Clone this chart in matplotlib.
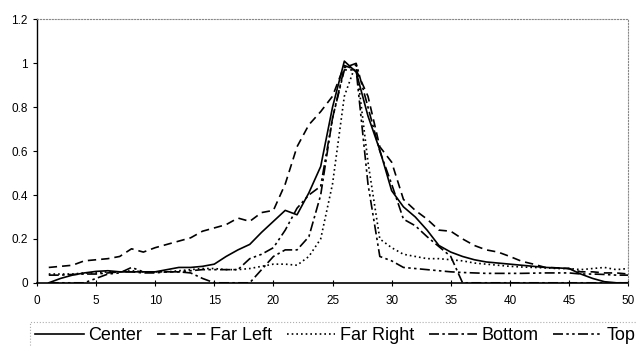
import matplotlib
matplotlib.use("Agg")
import matplotlib.pyplot as plt

plt.rcParams['font.family'] = ['Liberation Sans', 'DejaVu Sans']

# sample position 1..50
pos = list(range(1, 51))

center = [0.0, 0.02, 0.035, 0.045, 0.052, 0.055, 0.05, 0.05, 0.05, 0.05,
          0.06, 0.07, 0.07, 0.075, 0.085, 0.12, 0.15, 0.175, 0.23, 0.28,
          0.33, 0.31, 0.41, 0.53, 0.80, 1.01, 0.96, 0.76, 0.605, 0.42,
          0.346, 0.30, 0.24, 0.17, 0.14, 0.12, 0.105, 0.095, 0.09, 0.085,
          0.08, 0.075, 0.07, 0.068, 0.065, 0.04, 0.02, 0.005, 0.0, 0.0]

far_left = [0.07, 0.075, 0.08, 0.10, 0.105, 0.11, 0.12, 0.155, 0.14, 0.16,
            0.175, 0.19, 0.205, 0.235, 0.25, 0.265, 0.295, 0.28, 0.32, 0.33,
            0.45, 0.62, 0.72, 0.78, 0.85, 0.99, 0.97, 0.85, 0.62, 0.55,
            0.38, 0.33, 0.29, 0.24, 0.235, 0.20, 0.17, 0.15, 0.14, 0.12,
            0.098, 0.085, 0.07, 0.068, 0.065, 0.05, 0.05, 0.045, 0.045, 0.04]

far_right = [0.04, 0.04, 0.04, 0.045, 0.045, 0.05, 0.05, 0.055, 0.05, 0.05,
             0.05, 0.055, 0.06, 0.065, 0.065, 0.06, 0.06, 0.065, 0.075, 0.085,
             0.085, 0.08, 0.12, 0.20, 0.45, 0.85, 1.0, 0.55, 0.20, 0.16,
             0.13, 0.12, 0.11, 0.11, 0.105, 0.10, 0.09, 0.085, 0.08, 0.075,
             0.072, 0.07, 0.068, 0.065, 0.065, 0.06, 0.065, 0.07, 0.06, 0.065]

bottom = [0.035, 0.035, 0.038, 0.04, 0.04, 0.045, 0.05, 0.05, 0.045, 0.045,
          0.05, 0.05, 0.045, 0.02, 0.0, 0.0, 0.0, 0.0, 0.06, 0.12,
          0.15, 0.15, 0.21, 0.40, 0.75, 0.98, 1.0, 0.80, 0.60, 0.45,
          0.29, 0.26, 0.21, 0.165, 0.12, 0.0, 0.0, 0.0, 0.0, 0.0,
          0.0, 0.0, 0.0, 0.0, 0.0, 0.0, 0.0, 0.0, 0.0, 0.0]

top = [0.0, 0.0, 0.0, 0.0, 0.02, 0.04, 0.045, 0.07, 0.05, 0.05,
       0.05, 0.05, 0.055, 0.06, 0.06, 0.06, 0.06, 0.11, 0.13, 0.16,
       0.24, 0.34, 0.40, 0.44, 0.75, 0.97, 0.97, 0.45, 0.12, 0.10,
       0.07, 0.065, 0.06, 0.055, 0.05, 0.047, 0.045, 0.043, 0.043, 0.043,
       0.043, 0.044, 0.045, 0.045, 0.045, 0.04, 0.04, 0.038, 0.035, 0.035]

series = [("Center", center, '-'),
          ("Far Left", far_left, (0, (5, 3))),
          ("Far Right", far_right, (0, (1, 1.8))),
          ("Bottom", bottom, (0, (6, 2, 1.5, 2))),
          ("Top", top, (0, (6, 2, 1.5, 2, 1.5, 2)))]

fig = plt.figure(figsize=(6.37, 3.47), dpi=100)
ax = fig.add_axes([0.058, 0.185, 0.928, 0.759])

for name, vals, ls in series:
    ax.plot(pos, vals, color='black', linestyle=ls, linewidth=1.2, label=name)

ax.set_xlim(0, 50)
ax.set_ylim(0, 1.2)
ax.set_xticks(range(0, 51, 5))
ax.set_yticks([0, 0.2, 0.4, 0.6, 0.8, 1, 1.2])
ax.set_yticklabels(['0', '0.2', '0.4', '0.6', '0.8', '1', '1.2'])
ax.tick_params(axis='x', direction='inout', length=5, labelsize=8.5, pad=6)
ax.tick_params(axis='y', direction='out', length=3, labelsize=8.5)
for s in ['top', 'right']:
    ax.spines[s].set_linestyle(':')
    ax.spines[s].set_color('#888888')
ax.spines['left'].set_linewidth(1.0)
ax.spines['bottom'].set_linewidth(1.2)

leg = fig.legend(loc='upper left', bbox_to_anchor=(0.047, 0.072), ncol=5,
                 fontsize=13, handlelength=2.7, handletextpad=0.25,
                 columnspacing=0.8, frameon=True, fancybox=False,
                 borderpad=0.3, borderaxespad=0)
leg.get_frame().set_edgecolor('#999999')
leg.get_frame().set_linestyle(':')
leg.get_frame().set_linewidth(0.8)

fig.savefig('out.png', dpi=100)
